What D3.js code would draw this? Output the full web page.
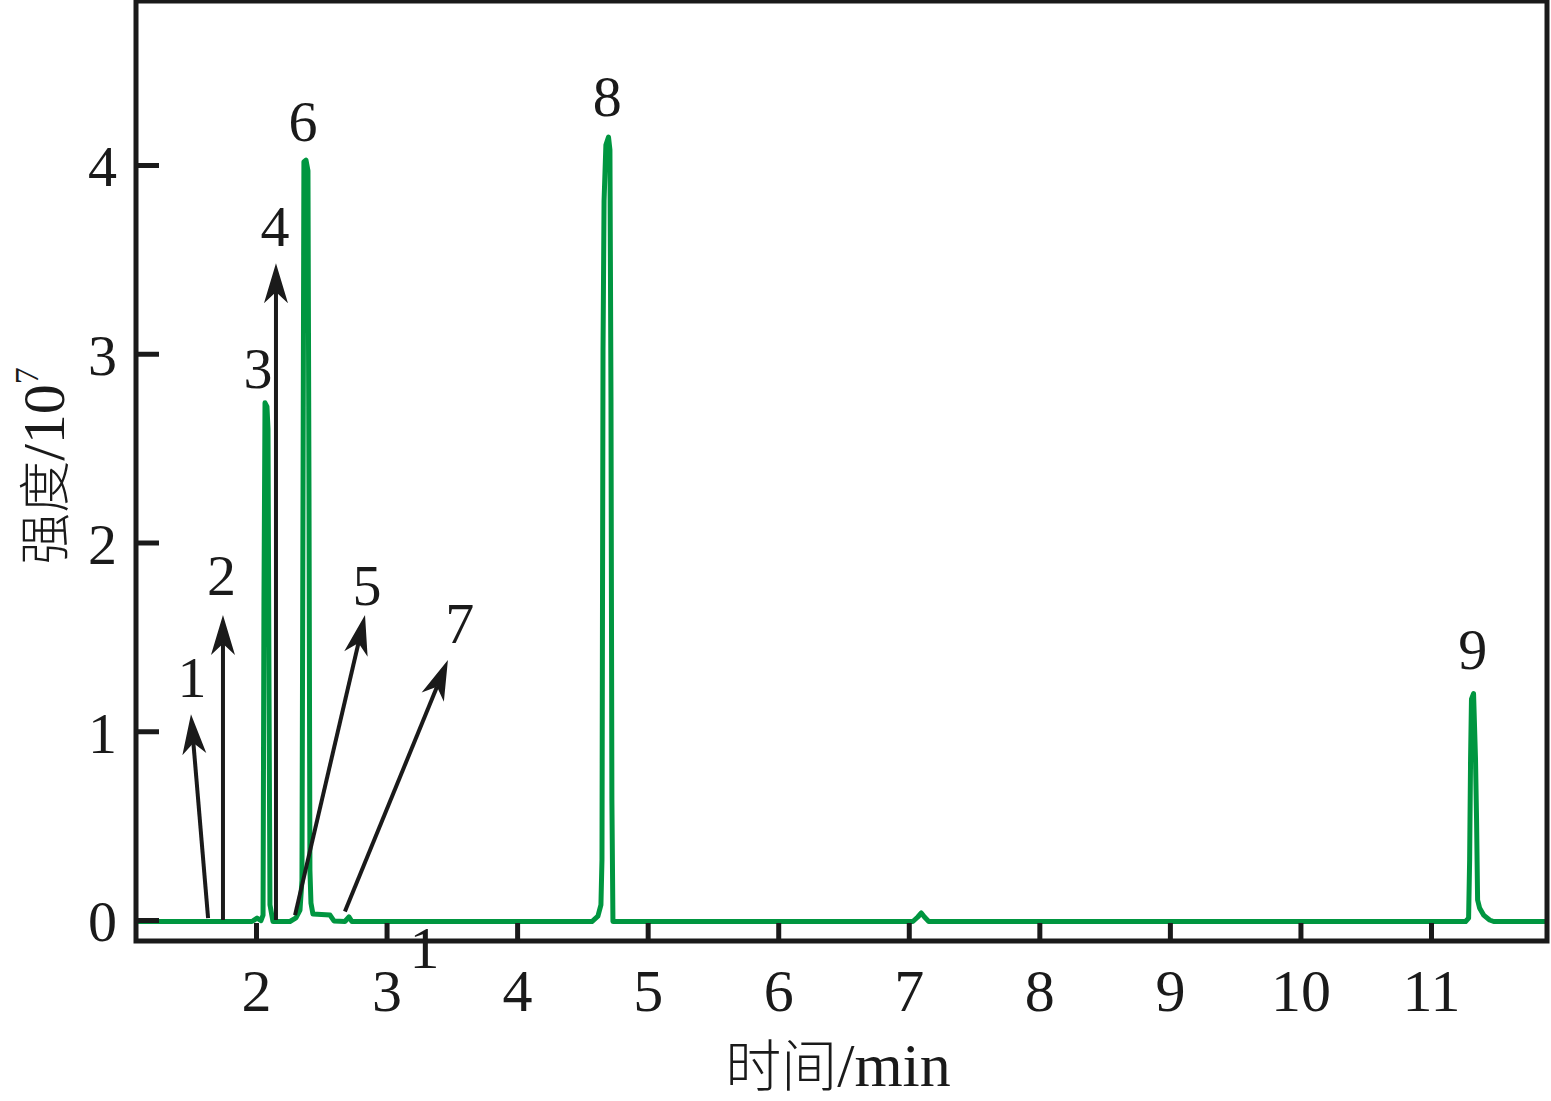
<!DOCTYPE html>
<html>
<head>
<meta charset="utf-8">
<script src="https://cdn.jsdelivr.net/npm/d3@7"></script>
<style>
  html, body { margin: 0; padding: 0; background: #fff; }
  svg { display: block; }
</style>
</head>
<body>
<svg id="chart" width="1551" height="1101"></svg>
<script>
// ---- data ----
const times = [1.089, 1.969, 2.008, 2.038, 2.054, 2.061, 2.069, 2.084, 2.092, 2.100, 2.107, 2.130,
  2.260, 2.306, 2.337, 2.352, 2.360, 2.367, 2.383, 2.398, 2.406, 2.413, 2.421, 2.436, 2.567, 2.597,
  2.681, 2.712, 2.735,
  4.573, 4.619, 4.642, 4.650, 4.658, 4.666, 4.680, 4.700, 4.711, 4.719, 4.726, 4.734,
  7.031, 7.069, 7.096, 7.120, 7.153,
  11.265, 11.288, 11.296, 11.303, 11.310, 11.326, 11.341, 11.349, 11.357, 11.372, 11.403, 11.449, 11.480, 11.885];
const intensity = [-0.008, -0.008, 0.010, -0.003, 0.026, 1.70, 2.74, 2.72, 2.60, 1.17, 0.08, -0.008,
  -0.008, 0.011, 0.053, 0.21, 2.225, 4.016, 4.026, 3.97, 2.225, 0.265, 0.09, 0.032, 0.026, -0.005,
  -0.008, 0.016, -0.008,
  -0.008, 0.020, 0.080, 0.32, 3.02, 3.81, 4.106, 4.148, 4.08, 2.755, 0.636, -0.008,
  -0.008, 0.016, 0.037, 0.016, -0.008,
  -0.008, 0.010, 0.32, 0.85, 1.17, 1.20, 0.85, 0.53, 0.106, 0.064, 0.026, 0.000, -0.008, -0.008];

const xTicks = [2, 3, 4, 5, 6, 7, 8, 9, 10, 11];
const yTicks = [0, 1, 2, 3, 4];

// peak number labels: [text, time, intensity]
const peakLabels = [
  ["1", 1.51, 1.18], ["2", 1.735, 1.72], ["3", 2.015, 2.82], ["4", 2.145, 3.57],
  ["5", 2.85, 1.67], ["6", 2.36, 4.127], ["7", 3.56, 1.47], ["8", 4.69, 4.26], ["9", 11.32, 1.33]
];
// arrows: [time0, int0, time1, int1] (tail -> tip)
const arrows = [
  [1.633, 0.010, 1.502, 1.09],
  [1.747, 0.000, 1.747, 1.616],
  [2.153, 0.000, 2.153, 3.48],
  [2.299, 0.026, 2.835, 1.616],
  [2.681, 0.045, 3.470, 1.377]
];
// stray "1" printed under the axis: [text, time, intensity]
const strayLabel = ["1", 3.29, -0.255];

// ---- layout ----
const svg = d3.select("#chart");
const pLeft = 136, pRight = 1547, pTop = 1, pBottom = 941;
const x = d3.scaleLinear().domain([2, 11]).range([256, 1431]);
const y = d3.scaleLinear().domain([0, 4]).range([920, 165]);

const serif = "'Liberation Serif', 'Times New Roman', serif";
const ink = "#1a1a1a";
const green = "#009640";

svg.append("clipPath").attr("id", "clip").append("rect")
  .attr("x", pLeft).attr("y", pTop).attr("width", pRight - pLeft).attr("height", pBottom - pTop);

// trace
const pts = times.map((t, i) => [t, intensity[i]]);
svg.append("path")
  .datum(pts)
  .attr("clip-path", "url(#clip)")
  .attr("fill", "none")
  .attr("stroke", green)
  .attr("stroke-width", 5)
  .attr("stroke-linejoin", "round")
  .attr("stroke-linecap", "round")
  .attr("d", d3.line().x(d => x(d[0])).y(d => y(d[1])));

// arrows
arrows.forEach(a => {
  const x0 = x(a[0]), y0 = y(a[1]), x1 = x(a[2]), y1 = y(a[3]);
  const ang = Math.atan2(y1 - y0, x1 - x0);
  const headL = 40, headW = 12;
  const bx = x1 - headL * Math.cos(ang), by = y1 - headL * Math.sin(ang);
  const nx = -Math.sin(ang), ny = Math.cos(ang);
  const mx = x1 - headL * 0.72 * Math.cos(ang), my = y1 - headL * 0.72 * Math.sin(ang);
  svg.append("line")
    .attr("x1", x0).attr("y1", y0).attr("x2", mx).attr("y2", my)
    .attr("stroke", ink).attr("stroke-width", 4);
  svg.append("path")
    .attr("d", `M${x1},${y1} L${bx + nx * headW},${by + ny * headW} L${mx},${my} L${bx - nx * headW},${by - ny * headW} Z`)
    .attr("fill", ink);
});

// frame
svg.append("rect")
  .attr("x", pLeft).attr("y", pTop).attr("width", pRight - pLeft).attr("height", pBottom - pTop)
  .attr("fill", "none").attr("stroke", ink).attr("stroke-width", 5);

// x axis (ticks inward)
const xAxis = d3.axisBottom(x).tickValues(xTicks).tickFormat(d3.format("d"))
  .tickSizeInner(-18).tickSizeOuter(0).tickPadding(44);
const gx = svg.append("g").attr("transform", `translate(0,${pBottom})`).call(xAxis);
gx.select(".domain").remove();
gx.selectAll(".tick line").attr("stroke", ink).attr("stroke-width", 5);
gx.selectAll(".tick text").attr("font-family", serif).attr("font-size", 60).attr("fill", ink)
  .attr("dy", "0.71em").attr("y", 27);

// y axis (ticks inward)
const yAxis = d3.axisLeft(y).tickValues(yTicks).tickFormat(d3.format("d"))
  .tickSizeInner(-23).tickSizeOuter(0).tickPadding(20);
const gy = svg.append("g").attr("transform", `translate(${pLeft},0)`).call(yAxis);
gy.select(".domain").remove();
gy.selectAll(".tick line").attr("stroke", ink).attr("stroke-width", 5);
gy.selectAll(".tick text").attr("font-family", serif).attr("font-size", 58).attr("fill", ink)
  .attr("dy", "0.36em").attr("x", -19);

// peak labels
svg.selectAll("text.peak").data(peakLabels).enter().append("text")
  .attr("class", "peak")
  .attr("x", d => x(d[1])).attr("y", d => y(d[2]))
  .attr("text-anchor", "middle")
  .attr("font-family", serif).attr("font-size", 58).attr("fill", ink)
  .text(d => d[0]);

svg.append("text")
  .attr("x", x(strayLabel[1])).attr("y", y(strayLabel[2]))
  .attr("text-anchor", "middle")
  .attr("font-family", serif).attr("font-size", 60).attr("fill", ink)
  .text(strayLabel[0]);

// axis titles
const xt = svg.append("text")
  .attr("x", 838).attr("y", 1086)
  .attr("text-anchor", "middle").attr("fill", ink).attr("font-size", 56);
xt.append("tspan").attr("font-family", "'Noto Sans CJK SC', sans-serif").attr("font-weight", 300).text("时间");
xt.append("tspan").attr("font-family", serif).attr("font-size", 62).text("/min");

const yt = svg.append("text")
  .attr("transform", "translate(64,466) rotate(-90)")
  .attr("text-anchor", "middle").attr("fill", ink).attr("font-size", 52);
yt.append("tspan").attr("font-family", "'Noto Sans CJK SC', sans-serif").attr("font-weight", 300).text("强度");
yt.append("tspan").attr("font-family", serif).attr("font-size", 60).text("/10");
yt.append("tspan").attr("font-family", serif).attr("font-size", 34).attr("dy", -26).text("7");
</script>
</body>
</html>
